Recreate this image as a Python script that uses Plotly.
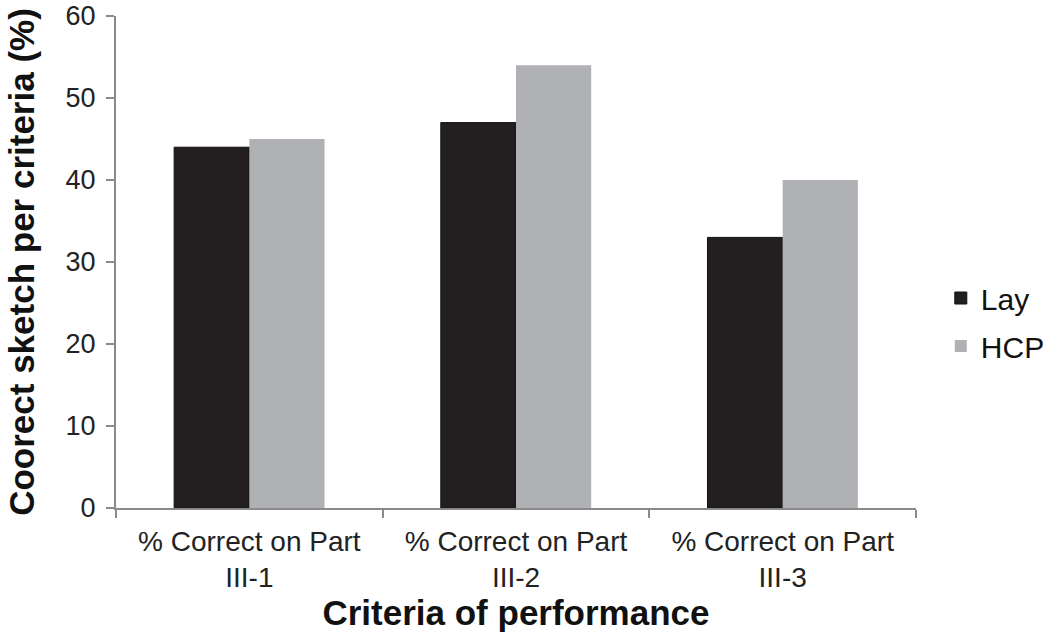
"""Grouped bars: correct sketch per criteria, Lay vs HCP."""

import plotly.graph_objects as go

categories = ["% Correct on Part<br>III-1", "% Correct on Part<br>III-2", "% Correct on Part<br>III-3"]
lay_values = [44, 47, 33]
hcp_values = [45, 54, 40]
y_ticks = [0, 10, 20, 30, 40, 50, 60]

FONT = "Liberation Sans, Arial, sans-serif"
AXIS_GREY = "#8a8a8a"

fig = go.Figure()
fig.add_trace(
    go.Bar(
        x=categories,
        y=lay_values,
        name="Lay",
        legendgroup="lay",
        marker={"color": "#231f20", "line": {"color": "#111111", "width": 1}},
    )
)
fig.add_trace(
    go.Bar(
        x=categories,
        y=hcp_values,
        name="HCP",
        legendgroup="hcp",
        marker={"color": "#b0b1b4", "line": {"width": 0}},
    )
)

fig.update_layout(
    width=1050,
    height=635,
    margin={"l": 116, "r": 134, "t": 16, "b": 127},
    paper_bgcolor="white",
    plot_bgcolor="white",
    font={"family": FONT, "size": 28, "color": "#222222"},
    barmode="group",
    bargap=0.436,
    bargroupgap=0,
    showlegend=True,
    legend={
        "xref": "container",
        "x": 0.896,
        "y": 0.378,
        "xanchor": "left",
        "yanchor": "middle",
        "traceorder": "grouped",
        "tracegroupgap": 6,
        "font": {"size": 30, "color": "#111111"},
        "itemwidth": 30,
    },
    xaxis={
        "title": {"text": "<b>Criteria of performance</b>", "font": {"size": 35, "color": "#111111"}, "standoff": 2},
        "automargin": False,
        "showline": True,
        "linecolor": AXIS_GREY,
        "linewidth": 2,
        "ticks": "outside",
        "tickson": "boundaries",
        "ticklen": 8,
        "tickcolor": AXIS_GREY,
        "tickwidth": 2,
        "ticklabelstandoff": 7,
        "tickfont": {"size": 28, "color": "#222222"},
        "showgrid": False,
    },
    yaxis={
        "title": {"text": "<b>Coorect sketch per criteria (%)</b>", "font": {"size": 35, "color": "#111111"}, "standoff": 20},
        "automargin": False,
        "range": [0, 60],
        "tickvals": y_ticks,
        "ticklabeloverflow": "allow",
        "showline": True,
        "linecolor": AXIS_GREY,
        "linewidth": 2,
        "ticks": "outside",
        "ticklen": 8,
        "tickcolor": AXIS_GREY,
        "tickwidth": 2,
        "ticklabelstandoff": 5,
        "tickfont": {"size": 27, "color": "#222222"},
        "showgrid": False,
        "zeroline": False,
    },
)

# drop the default page margin so the figure sits flush with the window
fig.write_html(
    "out.html",
    config={"displayModeBar": False},
    post_script="document.body.style.margin = '0';",
)
